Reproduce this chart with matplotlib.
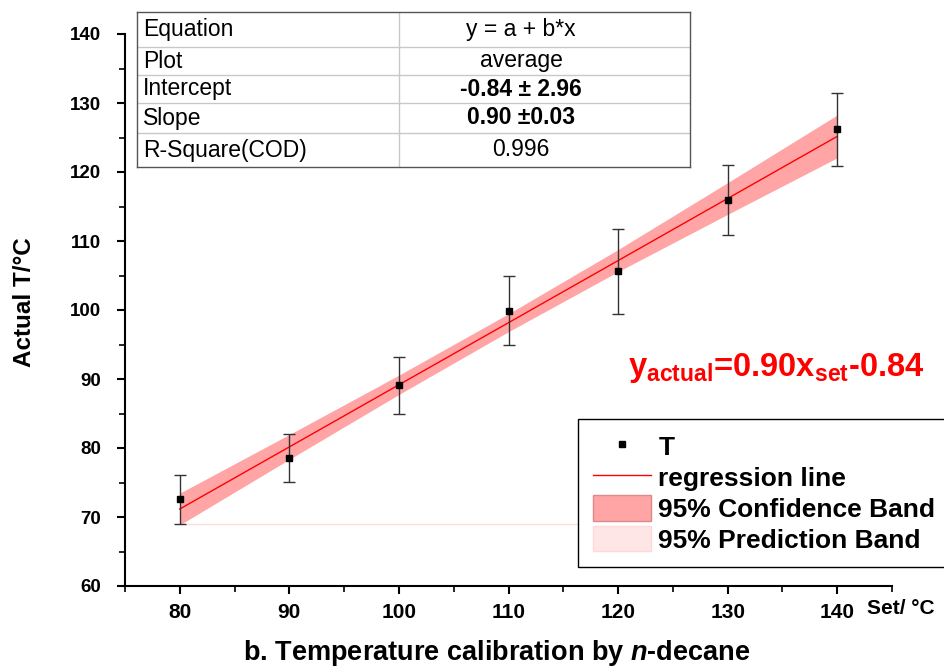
import numpy as np
import matplotlib.pyplot as plt
from matplotlib.lines import Line2D
from matplotlib.patches import Patch

plt.rcParams['font.family'] = ['Liberation Sans', 'DejaVu Sans']
plt.rcParams['mathtext.fontset'] = 'custom'
plt.rcParams['mathtext.rm'] = 'Liberation Sans'
plt.rcParams['mathtext.bf'] = 'Liberation Sans:bold'
plt.rcParams['mathtext.it'] = 'Liberation Sans:italic'
plt.rcParams['mathtext.bfit'] = 'Liberation Sans:bold:italic'

# data
set_t = [80, 90, 100, 110, 120, 130, 140]
actual_t = [72.6, 78.6, 89.1, 99.9, 105.7, 115.9, 126.3]
err_lo = [69.0, 75.1, 85.0, 94.9, 99.4, 110.9, 120.9]
err_hi = [76.1, 82.0, 93.2, 104.9, 111.8, 121.0, 131.5]
band_half = [2.3, 1.8, 1.4, 1.3, 1.6, 2.3, 3.1]  # 95% confidence band half width
intercept = -0.84
slope = 0.90
pred_low = 69.0  # lower edge of prediction band (as drawn)

table_rows = [('Equation', 'y = a + b*x', False),
              ('Plot', 'average', False),
              ('Intercept', '-0.84 \u00b1 2.96', True),
              ('Slope', '0.90 \u00b10.03', True),
              ('R-Square(COD)', '0.996', False)]

W, H = 944, 668
fig = plt.figure(figsize=(W / 100, H / 100), dpi=100)
ax = fig.add_axes([125 / W, 1 - 586 / H, (892 - 125) / W, (586 - 34) / H])

x = np.array(set_t)
y = np.array(actual_t)
fit = intercept + slope * x
half = np.array(band_half)

ax.plot([80, 140], [pred_low, pred_low], color='#ffdcdc', lw=1, zorder=1)
ax.fill_between(x, fit - half, fit + half, color='#ffa5a5', lw=0, zorder=2)
ax.plot(x, fit, color='#ff0000', lw=1, zorder=3)
ax.errorbar(x, y, yerr=[y - np.array(err_lo), np.array(err_hi) - y], fmt='s',
            color='black', ms=4, ecolor='#333333', elinewidth=1, capsize=4,
            capthick=1, zorder=4)

ax.set_xlim(75, 145)
ax.set_ylim(60, 140)
ax.set_xticks(range(80, 141, 10))
ax.set_xticks(range(75, 146, 5), minor=True)
ax.set_yticks(range(60, 141, 10))
ax.set_yticks(range(60, 141, 5), minor=True)
ax.spines['top'].set_visible(False)
ax.spines['right'].set_visible(False)
for s in ['left', 'bottom']:
    ax.spines[s].set_linewidth(1.5)
ax.tick_params(which='major', length=6, width=1.5)
ax.tick_params(which='minor', length=4, width=1.2)
ax.tick_params(axis='x', labelsize=15, pad=6)
ax.tick_params(axis='y', labelsize=13.5, pad=11)
for lab in ax.get_xticklabels() + ax.get_yticklabels():
    lab.set_fontweight('bold')

fig.text(867 / W, 1 - 609 / H, 'Set/ \u00b0C', fontsize=15, fontweight='bold',
         ha='left', va='center')
fig.text(25 / W, 1 - 302 / H, 'Actual T/\u00b0C', fontsize=17.5, fontweight='bold',
         rotation=90, ha='center', va='center')
fig.text(497 / W, 1 - 653 / H, r'b. Temperature calibration by $\mathbfit{n}$-decane',
         fontsize=19.5, fontweight='bold', ha='center', va='center')

fig.text(628 / W, 1 - 368 / H,
         r'y$_{\mathbf{actual}}$=0.90x$_{\mathbf{set}}$-0.84',
         fontsize=23.5, fontweight='bold', color='#ff0000', ha='left', va='center')

# results table
tab = fig.add_axes([137 / W, 1 - 167 / H, (690 - 137) / W, (167 - 12) / H])
tab.set_xlim(137, 690)
tab.set_ylim(167, 12)
tab.set_xticks([])
tab.set_yticks([])
for s in tab.spines.values():
    s.set_color('#555555')
    s.set_linewidth(1)
row_edges = [12, 47, 75, 103, 133, 167]
for yy in row_edges[1:-1]:
    tab.plot([137, 690], [yy, yy], color='#c8c8c8', lw=1)
tab.plot([399, 399], [12, 167], color='#c8c8c8', lw=1)
for i, (name, val, bold) in enumerate(table_rows):
    yc = (row_edges[i] + row_edges[i + 1]) / 2
    tab.text(143, yc, name, fontsize=16.5, ha='left', va='center')
    tab.text(521, yc, val, fontsize=16.5, ha='center', va='center',
             fontweight='bold' if bold else 'normal')

handles = [Line2D([], [], marker='s', ls='none', color='black', ms=4),
           Line2D([], [], color='#ff0000', lw=1),
           Patch(facecolor='#ffa5a5', edgecolor='#e08888'),
           Patch(facecolor='#ffe6e6', edgecolor='#ffd8d8')]
labels = ['T', 'regression line', '95% Confidence Band', '95% Prediction Band']
leg = ax.legend(handles, labels, loc='upper left',
                bbox_to_anchor=(578 / W, 1 - 419 / H), bbox_transform=fig.transFigure,
                prop={'weight': 'bold', 'size': 19}, frameon=True, fancybox=False,
                edgecolor='black', framealpha=1, handlelength=2.2, handleheight=1.1,
                handletextpad=0.3, borderpad=0.55, labelspacing=0.16, borderaxespad=0)
leg.get_frame().set_linewidth(1)

fig.savefig('out.png', dpi=100)
